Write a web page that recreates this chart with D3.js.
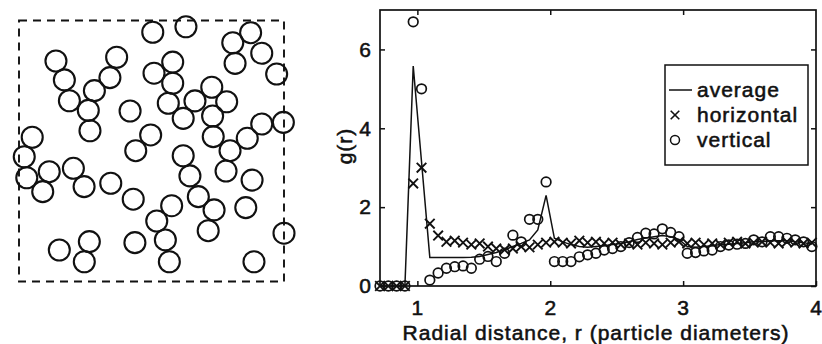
<!DOCTYPE html>
<html>
<head>
<meta charset="utf-8">
<script src="https://cdn.jsdelivr.net/npm/d3@7"></script>
<style>
  body { margin: 0; background: #fff; }
  svg text { font-family: "Liberation Sans", Arial, sans-serif; fill: #111; stroke: #111; stroke-width: 0.55px; }
</style>
</head>
<body>
<svg id="chart" width="822" height="344"></svg>
<script>
// particle centres in the snapshot, in particle diameters from the box's top-left corner
const particleX = [6.37, 7.95, 10.18, 11.03, 11.56, 10.29, 12.27, 1.76, 4.65, 2.16,
  4.33, 3.59, 2.40, 3.30, 3.38, 5.29, 6.43, 7.32, 7.32, 7.11,
  7.82, 8.38, 9.18, 9.89, 9.22, 9.25, 10.05, 10.87, 11.56, 12.59,
  9.86, 11.10, 6.27, 5.56, 0.63, 0.25, 0.37, 1.44, 1.13, 2.59,
  3.10, 4.37, 5.44, 7.82, 8.14, 8.54, 9.29, 9.01, 10.80, 12.62,
  7.27, 6.56, 6.97, 7.16, 5.52, 3.35, 3.11, 1.92, 11.19];
const particleY = [0.56, 0.30, 1.06, 0.58, 1.56, 2.04, 2.55, 1.93, 1.75, 2.83,
  2.72, 3.34, 3.82, 4.28, 5.25, 4.31, 2.51, 1.98, 2.99, 3.94,
  4.66, 3.83, 3.18, 3.87, 4.55, 5.53, 6.20, 5.61, 4.93, 4.85,
  7.17, 7.60, 5.45, 6.20, 5.56, 6.49, 7.49, 7.20, 8.15, 7.04,
  7.91, 7.75, 8.51, 6.44, 7.40, 8.39, 9.02, 10.01, 8.91, 10.13,
  8.82, 9.55, 10.45, 11.49, 10.58, 10.53, 11.49, 10.93, 11.49];
const boxWidth = 12.62;
const boxHeight = 12.43;

// radial distribution g(r), bins of 1/16 particle diameter
const radius = [0.71875, 0.78125, 0.84375, 0.90625, 0.96875, 1.03125, 1.09375, 1.15625,
  1.21875, 1.28125, 1.34375, 1.40625, 1.46875, 1.53125, 1.59375, 1.65625,
  1.71875, 1.78125, 1.84375, 1.90625, 1.96875, 2.03125, 2.09375, 2.15625,
  2.21875, 2.28125, 2.34375, 2.40625, 2.46875, 2.53125, 2.59375, 2.65625,
  2.71875, 2.78125, 2.84375, 2.90625, 2.96875, 3.03125, 3.09375, 3.15625,
  3.21875, 3.28125, 3.34375, 3.40625, 3.46875, 3.53125, 3.59375, 3.65625,
  3.71875, 3.78125, 3.84375, 3.90625, 3.96875];
const average = [0, 0, 0, 0, 5.58, 3.15, 0.72, 0.72, 0.72, 0.72, 0.72, 0.73, 0.75,
  0.8, 0.85, 0.92, 1.0, 1.08, 1.17, 1.42, 2.3, 1.21, 1.12, 1.05, 1.0, 0.98,
  1.0, 1.02, 1.05, 1.08, 1.12, 1.18, 1.22, 1.25, 1.28, 1.25, 1.18, 1.0, 0.98,
  1.0, 1.02, 1.05, 1.06, 1.08, 1.1, 1.12, 1.12, 1.15, 1.15, 1.15, 1.12, 1.1, 1.06];
const horizontal = [0, 0, 0, 0, 2.6, 3.0, 1.58, 1.28, 1.12, 1.15, 1.1, 1.05, 1.08,
  1.0, 0.95, 0.92, 0.95, 1.0, 0.98, 1.05, 1.1, 1.12, 1.1, 1.08, 1.15, 1.1,
  1.12, 1.08, 1.1, 1.05, 1.08, 1.05, 1.1, 1.08, 1.05, 1.1, 1.12, 1.08, 1.1,
  1.05, 1.08, 1.05, 1.1, 1.12, 1.08, 1.1, 1.12, 1.1, 1.08, 1.12, 1.1, 1.08, 1.1];
const vertical = [0, 0, 0, 0, 6.7, 5.0, 0.15, 0.33, 0.45, 0.49, 0.51, 0.45, 0.68,
  0.75, 0.62, 0.83, 1.29, 1.12, 1.69, 1.69, 2.64, 0.62, 0.62, 0.62, 0.74, 0.79,
  0.83, 0.91, 0.95, 1.0, 1.1, 1.23, 1.34, 1.32, 1.45, 1.36, 1.25, 0.83, 0.85,
  0.89, 0.91, 1.0, 1.04, 1.06, 1.08, 1.17, 1.12, 1.25, 1.25, 1.21, 1.17, 1.12, 1.0];

const xTicks = [1, 2, 3, 4];
const yTicks = [0, 2, 4, 6];
const legendLabels = ["average", "horizontal", "vertical"];

const ink = "#111";
const fontSize = 21;
const svg = d3.select("#chart");
svg.append("rect").attr("width", 822).attr("height", 344).attr("fill", "#fff");

// ---- left panel: snapshot of the particles ----
const px = d3.scaleLinear().domain([0, boxWidth]).range([19, 284]);
const py = d3.scaleLinear().domain([0, boxHeight]).range([20.5, 281.5]);
const pr = px(0.5) - px(0);

const snap = svg.append("g");
snap.selectAll("circle")
    .data(d3.range(particleX.length))
    .enter()
    .append("circle")
    .attr("cx", i => px(particleX[i]))
    .attr("cy", i => py(particleY[i]))
    .attr("r", pr)
    .attr("fill", "none")
    .attr("stroke", ink)
    .attr("stroke-width", 2.1);

snap.append("rect")
    .attr("x", px(0))
    .attr("y", py(0))
    .attr("width", px(boxWidth) - px(0))
    .attr("height", py(boxHeight) - py(0))
    .attr("fill", "none")
    .attr("stroke", ink)
    .attr("stroke-width", 1.9)
    .attr("stroke-dasharray", "8,6");

// ---- right panel: g(r) ----
const x = d3.scaleLinear().domain([0.71875, 4]).range([380, 816]);
const y = d3.scaleLinear().domain([0, 7]).range([286, 10]);

const plot = svg.append("g");

function styleAxis(g) {
    g.select(".domain").remove();
    g.selectAll(".tick line").attr("stroke", ink).attr("stroke-width", 1.5);
    g.selectAll(".tick text")
        .attr("font-family", '"Liberation Sans", Arial, sans-serif')
        .attr("font-size", fontSize)
        .attr("letter-spacing", "1px")
        .attr("fill", ink);
}

plot.append("g")
    .attr("transform", `translate(0, ${y(0)})`)
    .call(d3.axisBottom(x).tickValues(xTicks).tickSize(-5).tickPadding(14).tickFormat(d3.format("d")))
    .call(styleAxis);
plot.append("g")
    .attr("transform", `translate(0, ${y(7)})`)
    .call(d3.axisTop(x).tickValues(xTicks.slice(0, 3)).tickSize(-5).tickFormat(""))
    .call(styleAxis);
plot.append("g")
    .attr("transform", `translate(${x(0.71875)}, 0)`)
    .call(d3.axisLeft(y).tickValues(yTicks).tickSize(-5).tickPadding(8).tickFormat(d3.format("d")))
    .call(styleAxis);
plot.append("g")
    .attr("transform", `translate(${x(4)}, 0)`)
    .call(d3.axisRight(y).tickValues(yTicks).tickSize(-5).tickFormat(""))
    .call(styleAxis);

plot.append("rect")
    .attr("x", x(0.71875))
    .attr("y", y(7))
    .attr("width", x(4) - x(0.71875))
    .attr("height", y(0) - y(7))
    .attr("fill", "none")
    .attr("stroke", ink)
    .attr("stroke-width", 1.7);

// average: plain line
const line = d3.line()
    .x((d, i) => x(radius[i]))
    .y(d => y(d));
plot.append("path")
    .datum(average)
    .attr("d", line)
    .attr("fill", "none")
    .attr("stroke", ink)
    .attr("stroke-width", 1.5);

// horizontal: x markers
const xMark = s => `M${-s},${-s}L${s},${s}M${-s},${s}L${s},${-s}`;
plot.selectAll(".hmark")
    .data(horizontal)
    .enter()
    .append("path")
    .attr("class", "hmark")
    .attr("transform", (d, i) => `translate(${x(radius[i])}, ${y(d)})`)
    .attr("d", xMark(4.8))
    .attr("fill", "none")
    .attr("stroke", ink)
    .attr("stroke-width", 1.9);

// vertical: open circles
plot.selectAll(".vmark")
    .data(vertical)
    .enter()
    .append("circle")
    .attr("class", "vmark")
    .attr("cx", (d, i) => x(radius[i]))
    .attr("cy", d => y(d))
    .attr("r", 4.8)
    .attr("fill", "none")
    .attr("stroke", ink)
    .attr("stroke-width", 1.7);

// axis titles
plot.append("text")
    .attr("x", 596)
    .attr("y", 340)
    .attr("text-anchor", "middle")
    .attr("font-size", fontSize)
    .attr("letter-spacing", "1px")
    .text("Radial distance, r (particle diameters)");
plot.append("text")
    .attr("transform", "translate(352, 146) rotate(-90)")
    .attr("text-anchor", "middle")
    .attr("font-size", fontSize)
    .attr("letter-spacing", "1px")
    .text("g(r)");

// legend
const legend = plot.append("g").attr("transform", "translate(665, 65)");
legend.append("rect")
    .attr("width", 143)
    .attr("height", 100)
    .attr("fill", "#fff")
    .attr("stroke", ink)
    .attr("stroke-width", 1.5);
const rows = legend.selectAll(".row")
    .data(legendLabels)
    .enter()
    .append("g")
    .attr("class", "row")
    .attr("transform", (d, i) => `translate(0, ${25 + i * 25})`);
rows.append("text")
    .attr("x", 32)
    .attr("y", 7)
    .attr("font-size", fontSize)
    .attr("letter-spacing", "1px")
    .text(d => d);
rows.filter((d, i) => i === 0).append("line")
    .attr("x1", 4).attr("x2", 27)
    .attr("stroke", ink).attr("stroke-width", 1.5);
rows.filter((d, i) => i === 1).append("path")
    .attr("transform", "translate(10, 0)")
    .attr("d", xMark(4.3))
    .attr("stroke", ink).attr("stroke-width", 1.6);
rows.filter((d, i) => i === 2).append("circle")
    .attr("cx", 10).attr("r", 4.5)
    .attr("fill", "none")
    .attr("stroke", ink).attr("stroke-width", 1.5);
</script>
</body>
</html>
